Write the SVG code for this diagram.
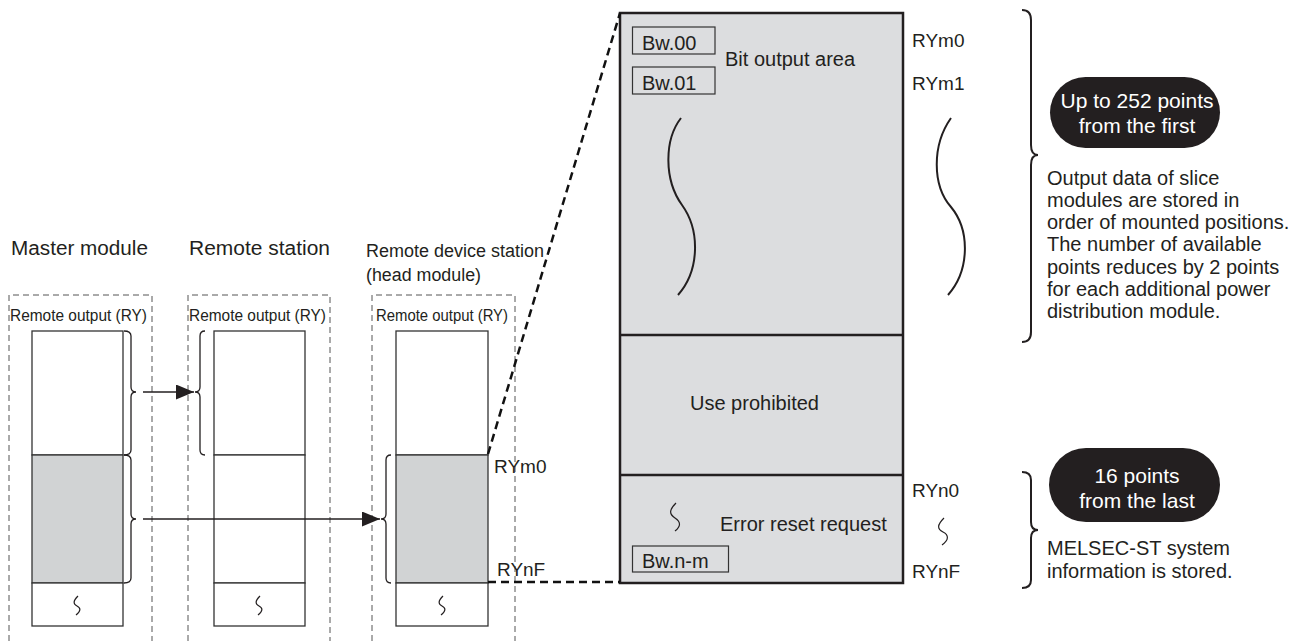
<svg xmlns="http://www.w3.org/2000/svg" width="1308" height="641" viewBox="0 0 1308 641">
<defs>
<style>
.t{font-family:"Liberation Sans",Arial,sans-serif;fill:#231f20}
.w{font-family:"Liberation Sans",Arial,sans-serif;fill:#ffffff;text-anchor:middle}
.dbox{fill:none;stroke:#555;stroke-width:1;stroke-dasharray:6 4}
.col{stroke:#333;stroke-width:1.3}
.br{fill:none;stroke:#231f20;stroke-width:1.3}
.bb{fill:none;stroke:#231f20;stroke-width:2}
.thick{fill:none;stroke:#111;stroke-width:2.5;stroke-dasharray:8 5}
.wig{fill:none;stroke:#231f20;stroke-width:2}
.swig{fill:none;stroke:#231f20;stroke-width:1.2}
.bw{fill:none;stroke:#333;stroke-width:1.2}
</style>
<marker id="arr" markerUnits="userSpaceOnUse" markerWidth="18" markerHeight="15" refX="18" refY="7.5" orient="auto">
<path d="M0,0 L18,7.5 L0,15 z" fill="#231f20"/>
</marker>
</defs>
<rect width="1308" height="641" fill="#ffffff"/>

<g id="titles">
<text class="t" x="11" y="255" font-size="20" textLength="137" lengthAdjust="spacingAndGlyphs">Master module</text>
<text class="t" x="189" y="255" font-size="20" textLength="141" lengthAdjust="spacingAndGlyphs">Remote station</text>
<text class="t" x="366" y="257" font-size="18" textLength="178" lengthAdjust="spacingAndGlyphs">Remote device station</text>
<text class="t" x="366" y="281" font-size="18" textLength="115" lengthAdjust="spacingAndGlyphs">(head module)</text>
</g>

<g id="master">
<path class="dbox" d="M9,641 V295 H152 V641"/>
<text class="t" x="10" y="321" font-size="17" textLength="137" lengthAdjust="spacingAndGlyphs">Remote output (RY)</text>
<rect class="col" x="32" y="331" width="91" height="124" fill="#fff"/>
<rect class="col" x="32" y="455" width="91" height="128" fill="#d1d3d4"/>
<rect class="col" x="32" y="583" width="91" height="43" fill="#fff"/>
<path class="swig" d="M78,596 C73,601 73,604 77,606 C81,608 81,611 76,615"/>
</g>

<g id="remote">
<path class="dbox" d="M188,641 V295 H330 V641"/>
<text class="t" x="189" y="321" font-size="17" textLength="137" lengthAdjust="spacingAndGlyphs">Remote output (RY)</text>
<rect class="col" x="214" y="331" width="91" height="124" fill="#fff"/>
<rect class="col" x="214" y="455" width="91" height="128" fill="#fff"/>
<rect class="col" x="214" y="583" width="91" height="43" fill="#fff"/>
<path class="swig" d="M260,596 C255,601 255,604 259,606 C263,608 263,611 258,615"/>
</g>

<g id="head">
<path class="dbox" d="M372,641 V295 H515 V641"/>
<text class="t" x="376" y="321" font-size="17" textLength="132" lengthAdjust="spacingAndGlyphs">Remote output (RY)</text>
<rect class="col" x="396" y="331" width="92" height="124" fill="#fff"/>
<rect class="col" x="396" y="455" width="92" height="128" fill="#d1d3d4"/>
<rect class="col" x="396" y="583" width="92" height="43" fill="#fff"/>
<path class="swig" d="M443,596 C438,601 438,604 442,606 C446,608 446,611 441,615"/>
<text class="t" x="494" y="473" font-size="19">RYm0</text>
<text class="t" x="497" y="576" font-size="19">RYnF</text>
</g>

<g id="detail">
<rect x="620" y="13" width="283" height="570" fill="#dcdddf" stroke="#231f20" stroke-width="2.5"/>
<line x1="620" y1="335" x2="903" y2="335" stroke="#231f20" stroke-width="2.5"/>
<line x1="620" y1="475" x2="903" y2="475" stroke="#231f20" stroke-width="2.5"/>
<rect class="bw" x="632.5" y="27" width="82.5" height="27"/>
<text class="t" x="642" y="50" font-size="20">Bw.00</text>
<rect class="bw" x="632.5" y="67" width="82.5" height="27"/>
<text class="t" x="642" y="90" font-size="20">Bw.01</text>
<text class="t" x="725" y="66" font-size="20">Bit output area</text>
<path class="wig" d="M681,118 C664,140 664,180 682,205 C700,230 700,270 678,295"/>
<text class="t" x="690" y="410" font-size="20">Use prohibited</text>
<path class="swig" d="M676,503 C669,510 669,514 675,518 C681,522 681,526 675,531" stroke-width="1.8"/>
<text class="t" x="720" y="531" font-size="20">Error reset request</text>
<rect class="bw" x="632.5" y="546" width="96" height="26"/>
<text class="t" x="642" y="568" font-size="20">Bw.n-m</text>
</g>

<g id="addresses">
<text class="t" x="912" y="47" font-size="19">RYm0</text>
<text class="t" x="912" y="90" font-size="19">RYm1</text>
<path class="wig" d="M951,118 C932,145 932,185 951,207 C970,230 970,270 948,295"/>
<text class="t" x="912" y="497" font-size="19">RYn0</text>
<path class="swig" d="M944,518 C937,525 937,529 943,532 C949,535 949,540 942,545" stroke-width="1.8"/>
<text class="t" x="912" y="578" font-size="19">RYnF</text>
</g>

<g id="note-first">
<path class="bb" d="M1022,10 Q1031,10 1031,20 V145 Q1031,155 1038,155 Q1031,155 1031,165 V332 Q1031,342 1022,342"/>
<rect x="1050" y="77" width="170" height="71" rx="35.5" fill="#231f20"/>
<text class="w" x="1137" y="108" font-size="21">Up to 252 points</text>
<text class="w" x="1137" y="133" font-size="21">from the first</text>
<text class="t" font-size="20">
<tspan x="1047" y="185">Output data of slice</tspan>
<tspan x="1047" y="207">modules are stored in</tspan>
<tspan x="1047" y="229">order of mounted positions.</tspan>
<tspan x="1047" y="251">The number of available</tspan>
<tspan x="1047" y="274">points reduces by 2 points</tspan>
<tspan x="1047" y="296">for each additional power</tspan>
<tspan x="1047" y="318">distribution module.</tspan>
</text>
</g>

<g id="note-last">
<path class="bb" d="M1022,472 Q1031,472 1031,480 V522 Q1031,530 1038,530 Q1031,530 1031,538 V580 Q1031,588 1022,588"/>
<rect x="1049" y="448" width="171" height="74" rx="37" fill="#231f20"/>
<text class="w" x="1137" y="483" font-size="21">16 points</text>
<text class="w" x="1137" y="508" font-size="21">from the last</text>
<text class="t" font-size="20">
<tspan x="1047" y="555">MELSEC-ST system</tspan>
<tspan x="1047" y="578">information is stored.</tspan>
</text>
</g>

<g id="connectors">
<path class="br" d="M124,331 Q131,331 131,336 V387 Q131,392 136,392 Q131,392 131,397 V450 Q131,455 124,455"/>
<path class="br" d="M124,455 Q131,455 131,460 V514 Q131,519 136,519 Q131,519 131,524 V578 Q131,583 124,583"/>
<path class="br" d="M205,331 Q200,331 200,336 V387 Q200,392 195,392 Q200,392 200,397 V450 Q200,455 205,455"/>
<path class="br" d="M391,455 Q386,455 386,460 V514 Q386,519 381,519 Q386,519 386,524 V578 Q386,583 391,583"/>
<line x1="143" y1="392" x2="194" y2="392" stroke="#231f20" stroke-width="1.5" marker-end="url(#arr)"/>
<line x1="143" y1="519" x2="380" y2="519" stroke="#231f20" stroke-width="1.5" marker-end="url(#arr)"/>
<path class="thick" d="M488,454 L620,13"/>
<path class="thick" d="M488,582 H620"/>
</g>
</svg>
